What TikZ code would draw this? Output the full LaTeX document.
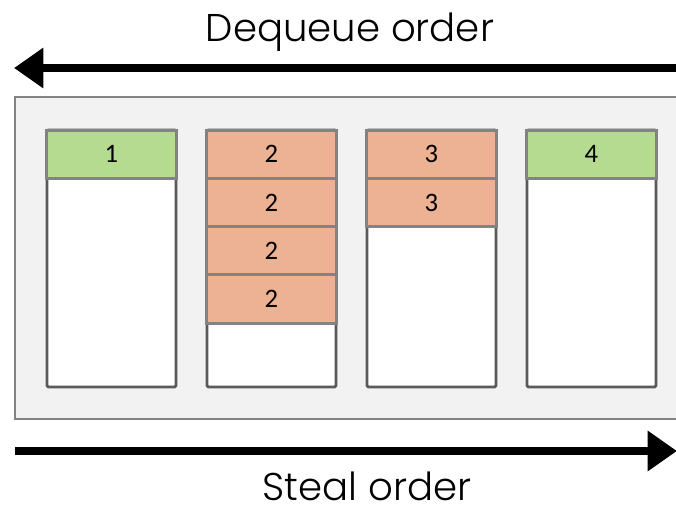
\documentclass[tikz,border=0pt]{standalone}
\usepackage{fontspec}
\setmainfont{Poppins}[UprightFont=* Light]
\newfontfamily\cellfont{Carlito}
\usetikzlibrary{arrows.meta}

\definecolor{paneback}{HTML}{F2F2F2}
\definecolor{paneline}{HTML}{838383}
\definecolor{colline}{HTML}{5A5A5A}
\definecolor{taskgreen}{HTML}{B5DB91}
\definecolor{taskorange}{HTML}{ECB293}

\begin{document}
\begin{tikzpicture}[x=0.75pt,y=-0.75pt,
  cell/.style={rectangle,draw=paneline,line width=2.2pt,minimum width=97.5pt,
    minimum height=36.2pt,inner sep=0pt,font=\cellfont\fontsize{20}{20}\selectfont},
  own/.style={cell,fill=taskgreen},
  other/.style={cell,fill=taskorange},
  column/.style={draw=colline,fill=white,line width=2.2pt,rounded corners=1pt},
  order/.style={line width=6pt,-{Triangle[length=22pt,width=29pt]}},
  title/.style={anchor=base,inner sep=0pt,text depth=0pt,font=\fontsize{29}{29}\selectfont}]
\useasboundingbox (0,0) rectangle (676,511);

% the pool holding the four worker queues
\draw[fill=paneback,draw=paneline,line width=2.2pt] (15,97) rectangle (700,419);

% empty queues first, tasks stacked on top
\draw[column] (47,130) rectangle (176,387);
\draw[column] (207,130) rectangle (336,387);
\draw[column] (367,130) rectangle (496,387);
\draw[column] (527,130) rectangle (656,387);

\node[own] (q1a) at (111.5,154.2) {1};

\node[other] (q2a) at (271.5,154.2) {2};
\node[other] (q2b) at (271.5,202.5) {2};
\node[other] (q2c) at (271.5,250.7) {2};
\node[other] (q2d) at (271.5,299) {2};

\node[other] (q3a) at (431.5,154.2) {3};
\node[other] (q3b) at (431.5,202.5) {3};

\node[own] (q4a) at (591.5,154.2) {4};

% order arrows
\coordinate (dqfrom) at (690,68);
\coordinate (dqto) at (14,68);
\coordinate (stfrom) at (15,451);
\coordinate (stto) at (677,451);
\draw[order] (dqfrom) -- (dqto);
\draw[order] (stfrom) -- (stto);

\node[title] (dq) at (350,41) {Dequeue order};
\node[title] (st) at (367,500) {Steal order};
\end{tikzpicture}
\end{document}
